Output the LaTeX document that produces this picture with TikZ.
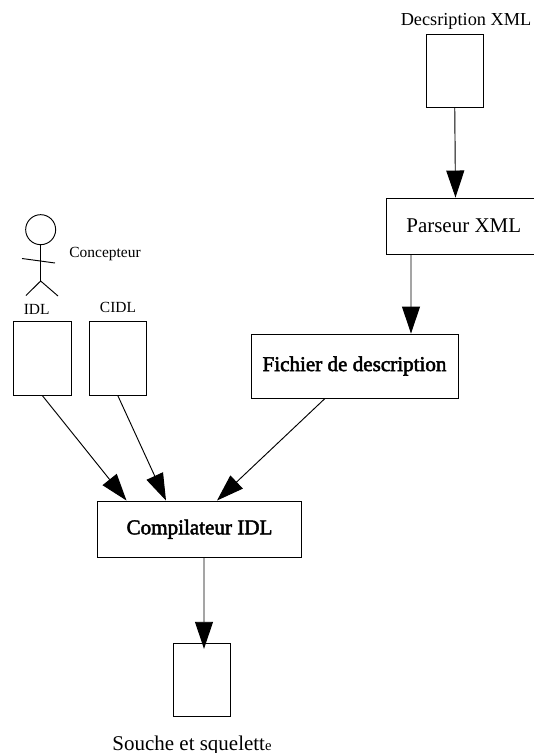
\documentclass[tikz,border=0pt]{standalone}
\usepackage{fontspec}
\setmainfont{Liberation Serif}
\newfontfamily\fakebold[FakeBold=2.2]{Liberation Serif}
\usetikzlibrary{arrows.meta}
\tikzset{
  docbox/.style={draw, line width=0.8pt, inner sep=0pt, minimum width=1.725cm, minimum height=2.205cm},
  stepbox/.style={draw, line width=0.8pt, inner sep=0pt},
  flow/.style={line width=0.8pt, -{Triangle[length=0.81cm, width=0.54cm]}},
  smalltext/.style={inner sep=0pt, font=\fontsize{13.2}{15}\selectfont},
  bigtext/.style={font=\fontsize{17.9}{20}\selectfont},
  boldtext/.style={font=\fontsize{18}{20}\selectfont\fakebold}
}

\begin{document}
\begin{tikzpicture}
  \useasboundingbox (0cm,0cm) rectangle (16.02cm,-22.59cm);
  % boxes
  \node[docbox] (descr) at (13.6425cm,-2.1225cm) {};
  \node[docbox] (idl) at (1.2675cm,-10.7475cm) {};
  \node[docbox] (cidl) at (3.5325cm,-10.7475cm) {};
  \node[docbox] (souche) at (6.0525cm,-20.4cm) {};
  \node[stepbox, bigtext, minimum width=4.635cm, minimum height=1.68cm] (parseur) at (13.9125cm,-6.78cm) {Parseur XML};
  \node[stepbox, boldtext, minimum width=6.21cm, minimum height=1.92cm] (fichier) at (10.635cm,-10.98cm) {Fichier de description};
  \node[stepbox, boldtext, minimum width=6.12cm, minimum height=1.695cm] (compil) at (5.985cm,-15.8775cm) {Compilateur IDL};
  % labels
  \node[inner sep=0pt, font=\fontsize{15.6}{18}\selectfont] (descrlabel) at (13.98cm,-0.63cm) {Decsription XML};
  \node[smalltext] (idllabel) at (1.1cm,-9.27cm) {IDL};
  \node[smalltext] (cidllabel) at (3.54cm,-9.23cm) {CIDL};
  \node[smalltext] (concepteur) at (3.15cm,-7.62cm) {Concepteur};
  \node[inner sep=0pt, font=\fontsize{17.9}{20}\selectfont] (souchelabel) at (5.76cm,-22.35cm) {Souche et squelett{\fontsize{12.5}{14}\selectfont e}};
  % arrows
  \draw[flow] (descr.south) -- ([xshift=-0.2475cm]parseur.north);
  \draw[flow] ([xshift=-1.5825cm]parseur.south) -- ([xshift=1.695cm]fichier.north);
  \draw[flow] (idl.south) -- ([xshift=-2.19cm]compil.north);
  \draw[flow] (cidl.south) -- ([xshift=-1.005cm]compil.north);
  \draw[flow] ([xshift=-0.885cm]fichier.south) -- ([xshift=0.525cm]compil.north);
  \draw[flow] ([xshift=0.135cm]compil.south) -- ([xshift=0.0675cm,yshift=-0.18cm]souche.north);
  % concepteur
  \node[draw, circle, line width=0.8pt, inner sep=0pt, minimum size=0.9cm] (head) at (1.22cm,-6.89cm) {};
  \coordinate (hip) at (1.22cm,-8.43cm);
  \coordinate (handl) at (0.66cm,-7.755cm);
  \coordinate (handr) at (1.65cm,-7.89cm);
  \coordinate (footl) at (0.78cm,-8.865cm);
  \coordinate (footr) at (1.74cm,-8.88cm);
  \draw[line width=0.8pt] (head.south) -- (hip);
  \draw[line width=0.8pt] (handl) -- (handr);
  \draw[line width=0.8pt] (footl) -- (hip) -- (footr);
\end{tikzpicture}
\end{document}
